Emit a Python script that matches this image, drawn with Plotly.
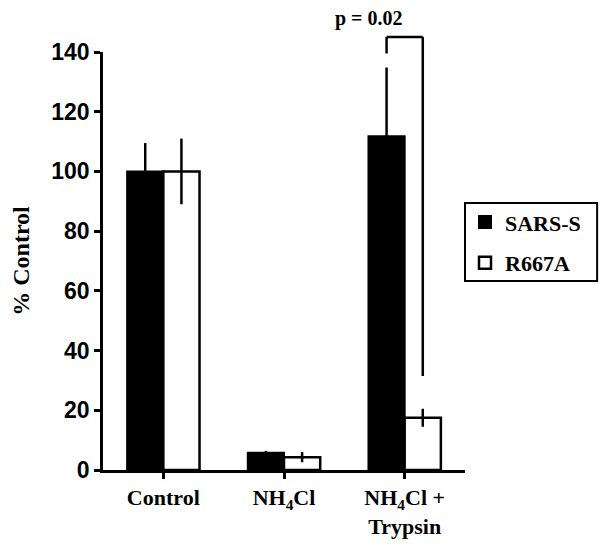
import plotly.graph_objects as go

categories = ["Control", "NH<sub>4</sub>Cl", "NH<sub>4</sub>Cl +<br>Trypsin"]
sars_s = [100, 5.8, 111.8]
sars_s_err = [9.5, 0.6, 23]
r667a = [100, 4.3, 17.5]
r667a_err = [11, 1.7, 3]
y_ticks = [0, 20, 40, 60, 80, 100, 120, 140]
y_max = 140
p_label = "p = 0.02"
bracket_top = 145
bracket_left_bottom = 139.5
bracket_right_bottom = 31.5

SERIF = "Liberation Serif, Times New Roman, serif"
SANS = "Liberation Sans, Arial, sans-serif"

x_idx = list(range(len(categories)))
n_cat = len(categories)
PAD = "&nbsp;" * 3

fig = go.Figure()
fig.add_trace(go.Bar(
    x=x_idx, y=sars_s, name="<b>SARS-S</b>" + PAD,
    marker=dict(color="black", line=dict(color="black", width=2)),
    error_y=dict(type="data", array=sars_s_err, color="black", thickness=2.5, width=0),
    legendgroup="a",
))
fig.add_trace(go.Bar(
    x=x_idx, y=r667a, name="<b>R667A</b>" + PAD,
    marker=dict(color="white", line=dict(color="black", width=2.5)),
    error_y=dict(type="data", array=r667a_err, color="black", thickness=2.5, width=0),
    legendgroup="b",
))

# significance bracket over the third group (bar centres are +/-0.15 category units)
gi = 2
off = 0.15
def px_x(v):
    return (v + 0.5) / n_cat
def px_y(v):
    return v / y_max
lx, rx = px_x(gi - off), px_x(gi + off)
yt = px_y(bracket_top)
line = dict(color="black", width=2.5)
fig.add_shape(type="line", xref="paper", yref="paper", x0=lx, x1=lx,
              y0=px_y(bracket_left_bottom), y1=yt, line=line)
fig.add_shape(type="line", xref="paper", yref="paper", x0=lx, x1=rx,
              y0=yt, y1=yt, line=line)
fig.add_shape(type="line", xref="paper", yref="paper", x0=rx, x1=rx,
              y0=yt, y1=px_y(bracket_right_bottom), line=line)
fig.add_annotation(x=px_x(gi), y=yt, xref="paper", yref="paper", text="<b>" + p_label + "</b>",
                   showarrow=False, yanchor="bottom", yshift=5,
                   font=dict(family=SERIF, size=20, color="black"))

# legend frame
fig.add_shape(type="rect", xref="paper", yref="paper", x0=1.0, x1=1.365,
              y0=0.452, y1=0.639, line=dict(color="black", width=2), fillcolor="rgba(0,0,0,0)")

fig.update_layout(
    width=609, height=545,
    margin=dict(l=95, r=152, t=44, b=83),
    plot_bgcolor="white", paper_bgcolor="white",
    barmode="group", bargap=0.4, bargroupgap=0,
    showlegend=True,
    legend=dict(x=1.0, y=0.643, xanchor="left", yanchor="top",
                borderwidth=0, bgcolor="rgba(0,0,0,0)",
                font=dict(family=SERIF, size=22, color="black"),
                traceorder="grouped", tracegroupgap=9,
                itemwidth=30),
)
fig.update_xaxes(
    range=[-0.5, 2.5], tickmode="array", tickvals=x_idx,
    ticktext=["<b>" + c + "</b>" for c in categories],
    tickfont=dict(family=SERIF, size=22, color="black"),
    showline=True, linecolor="black", linewidth=2.5,
    ticks="outside", ticklen=6, tickwidth=2.5, tickcolor="black",
    showgrid=False, zeroline=False, automargin=False,
)
fig.update_xaxes(tickson="boundaries")
fig.update_yaxes(
    range=[0, y_max], tickvals=y_ticks,
    ticktext=["<b>%d</b>" % t for t in y_ticks],
    tickfont=dict(family=SANS, size=23, color="black"),
    showline=True, linecolor="black", linewidth=2.5,
    ticks="outside", ticklen=6, tickwidth=2.5, tickcolor="black",
    showgrid=False, zeroline=False, automargin=False,
    title=dict(text="<b>% Control</b>", font=dict(family=SERIF, size=24, color="black"), standoff=32),
)

fig.write_html("out.html")
